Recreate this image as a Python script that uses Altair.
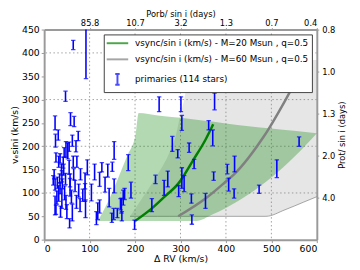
import altair as alt
import pandas as pd

# ---------------- data ----------------
# error bars: Delta RV (km/s), v sin i (km/s), half error (km/s)
bar_drv = [92, 64, 47, 24, 58, 66, 253, 301, 375, 303, 362,
           31, 25, 75, 62, 48, 52, 55, 44, 26, 32, 35, 64, 72, 95, 20, 29, 34, 39, 40,
           57, 90, 24, 43, 57, 32, 39, 24, 26, 68, 71, 79, 90, 56, 91,
           45, 48, 60, 65, 35, 22, 50, 62, 38, 80, 85, 28, 70, 42, 55, 36, 47, 76,
           111, 115, 122, 127, 122, 134, 140, 143, 150, 154, 154, 149, 153, 161, 168,
           170, 174, 177, 171, 185, 191, 199, 118, 104,
           237, 245, 264, 272, 282, 294, 303, 308, 296, 319, 330, 324, 325, 355, 371,
           373, 403, 419, 406, 418, 473, 512, 561]
bar_v = [420, 417, 307, 250, 258, 253, 290, 290, 296, 250, 245,
         224, 212, 222, 212, 193, 190, 199, 187, 176, 167, 174, 167, 167, 155, 127, 122, 131, 136, 120,
         127, 126, 118, 150, 112, 99, 88, 73, 64, 115, 81, 74, 101, 35, 66,
         100, 80, 92, 140, 110, 140, 60, 58, 150, 140, 95, 90, 200, 165, 155, 60, 130, 105,
         145, 46, 71, 155, 129, 118, 148, 90, 156, 191, 115, 47, 55, 57, 76,
         73, 90, 98, 50, 165, 106, 32, 61, 101,
         74, 129, 111, 130, 205, 184, 132, 120, 104, 197, 162, 88, 43, 83, 218,
         136, 151, 162, 118, 99, 108, 152, 210]
bar_err = [75, 10, 11, 15, 14, 11, 16, 16, 18, 16, 10,
           11, 14, 10, 12, 17, 17, 10, 10, 10, 12, 10, 12, 12, 16, 10, 12, 10, 12, 10,
           14, 17, 12, 12, 19, 17, 21, 20, 10, 12, 14, 14, 19, 10, 19,
           15, 15, 14, 12, 12, 10, 15, 18, 12, 12, 13, 14, 12, 12, 15, 12, 12, 14,
           17, 14, 14, 10, 15, 16, 14, 20, 10, 19, 15, 10, 12, 10, 12,
           16, 16, 12, 10, 17, 17, 10, 18, 18,
           14, 9, 16, 17, 16, 9, 22, 17, 12, 10, 10, 10, 10, 16, 17,
           9, 10, 17, 14, 10, 9, 19, 10]

# shaded region, M = 20 Msun (green)
green_x = [118, 140, 160, 183, 201, 208, 250, 300, 335, 370, 400, 450, 500, 550, 600]
green_lo = [40, 40, 40, 40, 40, 40, 40, 40, 40, 54, 68, 97, 133, 177, 228]
green_hi = [40, 80, 125, 180, 224, 271, 266, 261, 257, 253, 249, 243, 238, 233, 228]

# shaded region, M = 60 Msun (gray)
gray_x = [189, 220, 250, 275, 290, 297, 310, 319, 323, 400, 488, 530, 570, 600]
gray_lo = [50, 50, 50, 50, 50, 50, 50, 50, 50, 50, 50, 64, 80, 92]
gray_hi = [50, 95, 140, 185, 224, 255, 310, 364, 385, 385, 385, 385, 385, 385]

# model curves
line20_x = [200, 237, 265, 295, 329, 355, 372]
line20_v = [40, 67, 92, 120, 172, 214, 247]
line60_x = [295, 355, 398, 419, 484, 552, 582]
line60_v = [50, 88, 123, 141, 222, 335, 385]

# axes / grid
x_ticks = [0, 100, 200, 300, 400, 500, 600]
y_ticks = [0, 50, 100, 150, 200, 250, 300, 350, 400, 450]
grid_x = [100, 200, 300, 400, 500]
grid_y = [100, 200, 300, 400]
top_vals = [100, 200, 300, 400, 500, 600]
top_labels = ["85.8", "10.7", "3.2", "1.3", "0.7", "0.4"]
right_vals = [450, 360, 270, 180, 90]
right_labels = ["0.8", "1.0", "1.3", "2.0", "4.0"]

series = ["vsync/sin i (km/s) - M=20 Msun , q=0.5",
          "vsync/sin i (km/s) - M=60 Msun , q=0.5",
          "primaries (114 stars)"]
series_colors = ["#008000", "#808080", "#0000ff"]
series_shapes = ["M-2.2,0L2.2,0", "M-2.2,0L2.2,0",
                 "M0,-1.1L0,1.1M-0.45,-1.1L0.45,-1.1M-0.45,1.1L0.45,1.1"]

# ---------------- tables ----------------
bars = pd.DataFrame({"x": bar_drv, "v": bar_v, "e": bar_err})
bars["lo"] = bars["v"] - bars["e"]
bars["hi"] = bars["v"] + bars["e"]
green = pd.DataFrame({"x": green_x, "lo": green_lo, "hi": green_hi})
gray = pd.DataFrame({"x": gray_x, "lo": gray_lo, "hi": gray_hi})
l20 = pd.DataFrame({"x": line20_x, "v": line20_v})
l60 = pd.DataFrame({"x": line60_x, "v": line60_v})
gx = pd.DataFrame({"gx": grid_x})
gy = pd.DataFrame({"gy": grid_y})
leg = pd.DataFrame({"series": series})

xs = alt.Scale(domain=[0, 600], nice=False, zero=False)
ys = alt.Scale(domain=[0, 450], nice=False, zero=False)


def lab_expr(vals, labels):
    return " : ".join(f"datum.value == {v} ? '{l}'" for v, l in zip(vals, labels)) + " : ''"


bottom_axis = alt.Axis(orient="bottom", values=x_ticks, title="Δ RV (km/s)", format="d",
                       labelPadding=1, titlePadding=1)
left_axis = alt.Axis(orient="left", values=y_ticks, title="vₑsini (km/s)", format="d",
                     labelPadding=2, titlePadding=2)
top_axis = alt.Axis(orient="top", values=top_vals, labelExpr=lab_expr(top_vals, top_labels),
                    title="Porb/ sin i (days)", labelFontSize=8.5, titleFontSize=8.5,
                    tickSize=2, titlePadding=0, labelPadding=0)
right_axis = alt.Axis(orient="right", values=right_vals,
                      labelExpr=lab_expr(right_vals, right_labels),
                      title="Prot/ sin i (days)", titleAngle=270, titleBaseline="top",
                      labelFontSize=8.5, titleFontSize=8.5, tickSize=2,
                      labelPadding=3, titlePadding=3)

grid_style = dict(color="#a0a0a0", strokeDash=[1.5, 2.5], strokeWidth=1)
grid_v = alt.Chart(gx).mark_rule(**grid_style).encode(
    x=alt.X("gx:Q", scale=xs, axis=top_axis))
grid_h = alt.Chart(gy).mark_rule(**grid_style).encode(
    y=alt.Y("gy:Q", scale=ys, axis=right_axis))

gray_area = alt.Chart(gray).mark_area(
    color="#808080", opacity=0.2, interpolate="monotone",
    line=alt.OverlayMarkDef(color="#808080", opacity=0.7, strokeWidth=1)).encode(
    x=alt.X("x:Q", scale=xs, axis=bottom_axis),
    y=alt.Y("lo:Q", scale=ys, axis=left_axis),
    y2="hi:Q")
green_area = alt.Chart(green).mark_area(
    color="#008000", opacity=0.3, interpolate="monotone").encode(
    x=alt.X("x:Q", scale=xs, axis=None),
    y=alt.Y("lo:Q", scale=ys, axis=None),
    y2="hi:Q")

line20 = alt.Chart(l20).mark_line(color="#008000", strokeWidth=2.5, interpolate="monotone").encode(
    x=alt.X("x:Q", scale=xs, axis=None), y=alt.Y("v:Q", scale=ys, axis=None))
line60 = alt.Chart(l60).mark_line(color="#808080", strokeWidth=2.5, interpolate="monotone").encode(
    x=alt.X("x:Q", scale=xs, axis=None), y=alt.Y("v:Q", scale=ys, axis=None))

err_rule = alt.Chart(bars).mark_rule(color="#0000ff", strokeWidth=1.6, clip=True).encode(
    x=alt.X("x:Q", scale=xs, axis=None),
    y=alt.Y("lo:Q", scale=ys, axis=None), y2="hi:Q")
cap_lo = alt.Chart(bars).mark_tick(color="#0000ff", orient="horizontal", size=4.5,
                                   thickness=1.3, clip=True).encode(
    x=alt.X("x:Q", scale=xs, axis=None), y=alt.Y("lo:Q", scale=ys, axis=None))
cap_hi = alt.Chart(bars).mark_tick(color="#0000ff", orient="horizontal", size=4.5,
                                   thickness=1.3, clip=True).encode(
    x=alt.X("x:Q", scale=xs, axis=None), y=alt.Y("hi:Q", scale=ys, axis=None))

legend = alt.Legend(title=None, orient="top-right", offset=5, padding=3,
                    strokeColor="#404040", fillColor="white", labelFont="DejaVu Sans",
                    labelFontSize=9, labelLimit=400, symbolSize=100, symbolStrokeWidth=2,
                    rowPadding=5.5, labelOffset=12, symbolOffset=5)
legend_proxy = alt.Chart(leg).mark_point(filled=False, size=100, strokeWidth=2).encode(
    color=alt.Color("series:N", scale=alt.Scale(domain=series, range=series_colors),
                    legend=legend, sort=series),
    shape=alt.Shape("series:N", scale=alt.Scale(domain=series, range=series_shapes),
                    legend=legend, sort=series),
).transform_filter("false")

chart = alt.layer(
    grid_v, grid_h, gray_area, green_area, line20, line60, err_rule, cap_lo, cap_hi, legend_proxy
).resolve_axis(x="independent", y="independent").properties(
    width=279, height=215,
    autosize=alt.AutoSizeParams(type="none"),
    padding={"left": 37, "top": 19, "right": 36, "bottom": 28},
).configure_axis(
    labelFont="DejaVu Sans", titleFont="DejaVu Sans", labelFontSize=9.5, titleFontSize=9.5,
    titleFontWeight="normal", domainColor="#9a9a9a", domainWidth=2, tickColor="#9a9a9a",
    tickSize=3, labelColor="black", titleColor="black", grid=False
).configure_view(stroke=None)

chart.save("out.html", embed_options={"renderer": "svg", "actions": False})
